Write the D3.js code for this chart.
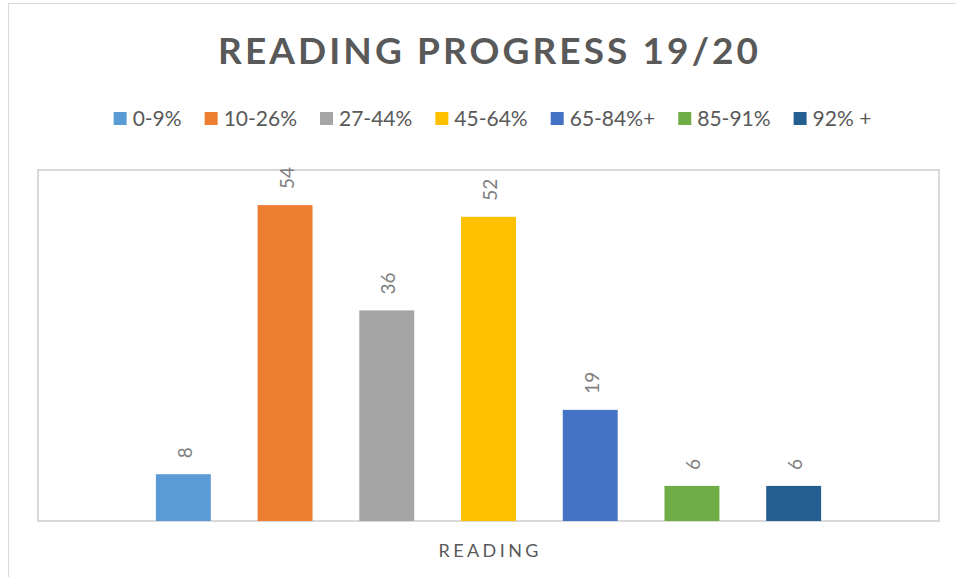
<!DOCTYPE html>
<html>
<head>
<meta charset="utf-8">
<script src="https://cdn.jsdelivr.net/npm/d3@7"></script>
<style>
  body { margin: 0; background: #fff; }
  svg { display: block; font-family: Lato, "Open Sans", sans-serif; }
</style>
</head>
<body>
<svg id="chart" width="956" height="577"></svg>
<script>
// dữ liệu
const categories = ["READING"];
const seriesNames = ["0-9%", "10-26%", "27-44%", "45-64%", "65-84%+", "85-91%", "92% +"];
const seriesValues = [8, 54, 36, 52, 19, 6, 6];
const seriesColors = ["#5B9BD5", "#ED7D31", "#A5A5A5", "#FFC000", "#4472C4", "#70AD47", "#255E91"];
const yDomain = [0, 60];

const data = seriesNames.map((s, i) => ({cat: categories[0], name: s, value: seriesValues[i], color: seriesColors[i]}));

const svg = d3.select("#chart");

// khung ngoài
svg.append("rect")
   .attr("x", 8.5).attr("y", 3.5)
   .attr("width", 1000).attr("height", 700)
   .attr("fill", "none")
   .attr("stroke", "#d9d9d9")
   .attr("stroke-width", 1);

const plot = {left: 38, top: 170, right: 939, bottom: 521};
const pw = plot.right - plot.left, ph = plot.bottom - plot.top;

const g = svg.append("g").attr("transform", `translate(${plot.left},${plot.top})`);

const x0 = d3.scaleBand().domain(categories).range([0, pw]).paddingInner(0).paddingOuter(0.1327);
const x1 = d3.scaleBand().domain(seriesNames).range([0, x0.bandwidth()]).paddingInner(0.46).paddingOuter(0.23);
const y = d3.scaleLinear().domain(yDomain).range([ph, 0]);

// viền vùng vẽ
g.append("rect")
 .attr("width", pw).attr("height", ph)
 .attr("fill", "none")
 .attr("stroke", "#d9d9d9")
 .attr("stroke-width", 2);

// cột
g.selectAll("rect.bar")
 .data(data)
 .enter().append("rect")
   .attr("class", "bar")
   .attr("x", d => x0(d.cat) + x1(d.name))
   .attr("y", d => y(d.value))
   .attr("width", x1.bandwidth())
   .attr("height", d => ph - y(d.value))
   .attr("fill", d => d.color);

// nhãn giá trị (xoay dọc)
g.selectAll("text.value")
 .data(data)
 .enter().append("text")
   .attr("class", "value")
   .attr("transform", d => `translate(${x0(d.cat) + x1(d.name) + x1.bandwidth() / 2 + 1},${y(d.value) - 16}) rotate(-90)`)
   .attr("dominant-baseline", "central")
   .attr("text-anchor", "start")
   .style("font-size", "19px")
   .style("fill", "#7f7f7f")
   .text(d => d.value);

// trục X: nhãn danh mục
g.selectAll("text.cat")
 .data(categories)
 .enter().append("text")
   .attr("class", "cat")
   .attr("x", d => x0(d) + x0.bandwidth() / 2)
   .attr("y", ph + 36)
   .attr("text-anchor", "middle")
   .attr("textLength", 100)
   .attr("lengthAdjust", "spacing")
   .style("font-size", "18px")
   .style("fill", "#595959")
   .text(d => d);

// tiêu đề
svg.append("text")
   .attr("x", 488)
   .attr("y", 64)
   .attr("text-anchor", "middle")
   .attr("textLength", 540)
   .attr("lengthAdjust", "spacing")
   .style("font-size", "37px")
   .style("font-weight", "bold")
   .style("fill", "#595959")
   .text("READING PROGRESS 19/20");

// chú thích
const legend = svg.append("g");
const items = legend.selectAll("g.item")
  .data(data)
  .enter().append("g")
    .attr("class", "item");
items.append("rect")
  .attr("y", 112)
  .attr("width", 13).attr("height", 13)
  .attr("fill", d => d.color);
items.append("text")
  .attr("x", 19)
  .attr("y", 125.5)
  .style("font-size", "21px")
  .style("fill", "#595959")
  .text(d => d.name);

let cx = 0;
items.each(function() {
  const w = d3.select(this).select("text").node().getComputedTextLength();
  d3.select(this).attr("transform", `translate(${cx},0)`);
  cx += 19 + w + 23;
});
const totalW = cx - 23;
legend.attr("transform", `translate(${492.5 - totalW / 2},0)`);
</script>
</body>
</html>
